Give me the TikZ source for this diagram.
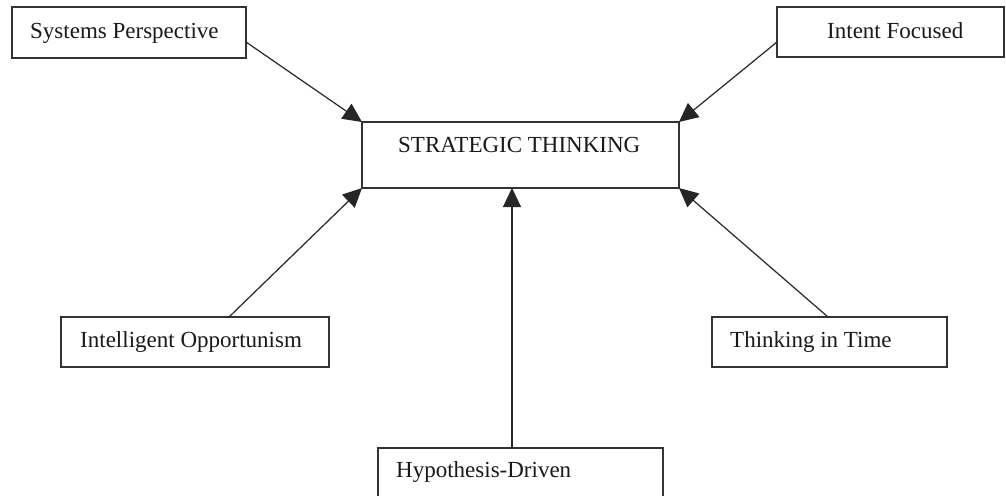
\documentclass[tikz,border=0pt]{standalone}
\usepackage{fontspec}
\setmainfont{Liberation Serif}
\usetikzlibrary{arrows.meta,calc}
\begin{document}
\begin{tikzpicture}[x=1pt,y=1pt,
  box/.style={draw=black!80,line width=1.2pt,rectangle,inner sep=0pt,outer sep=0pt},
  lbl/.style={anchor=base west,inner sep=0pt,font=\fontsize{23}{27}\selectfont,text=black!90},
  arr/.style={draw=black!85,line width=1.2pt,-{Triangle[length=19pt,width=18pt]}}]
\useasboundingbox (0,0) rectangle (1006,-495);
\fill[white] (0,0) rectangle (1006,-495);
% boxes
\node[box,minimum width=234pt,minimum height=51pt] (sys) at (129,-32.5) {};
\node[box,minimum width=227pt,minimum height=50pt] (int) at (890.5,-32) {};
\node[box,minimum width=317pt,minimum height=66pt] (st) at (520.5,-155) {};
\node[box,minimum width=268pt,minimum height=50pt] (opp) at (195,-342) {};
\node[box,minimum width=235pt,minimum height=50pt] (tim) at (829.5,-342) {};
\node[box,minimum width=285pt,minimum height=70pt] (hyp) at (520.5,-483) {};
% labels
\node[lbl] (tsys) at (30,-39) {Systems Perspective};
\node[lbl] (tint) at (827,-38) {Intent Focused};
\node[lbl] (tst) at (398,-152) {STRATEGIC THINKING};
\node[lbl] (topp) at (80,-347) {Intelligent Opportunism};
\node[lbl] (ttim) at (730,-347) {Thinking in Time};
\node[lbl] (thyp) at (396,-477) {Hypothesis-Driven};
% connector start points
\coordinate (s1) at ($(sys.north east)+(0,-35)$);
\coordinate (s2) at ($(int.north west)+(0,-35)$);
\coordinate (s3) at ($(opp.north west)+(168,0)$);
\coordinate (s4) at ($(tim.north west)+(116,0)$);
\coordinate (s5) at ($(hyp.north west)+(134,0)$);
% connectors
\draw[arr] (s1) -- (st.north west);
\draw[arr] (s2) -- (st.north east);
\draw[arr] (s3) -- (st.south west);
\draw[arr] (s4) -- (st.south east);
\draw[arr] (s5) -- (s5 |- st.south);
\end{tikzpicture}
\end{document}
